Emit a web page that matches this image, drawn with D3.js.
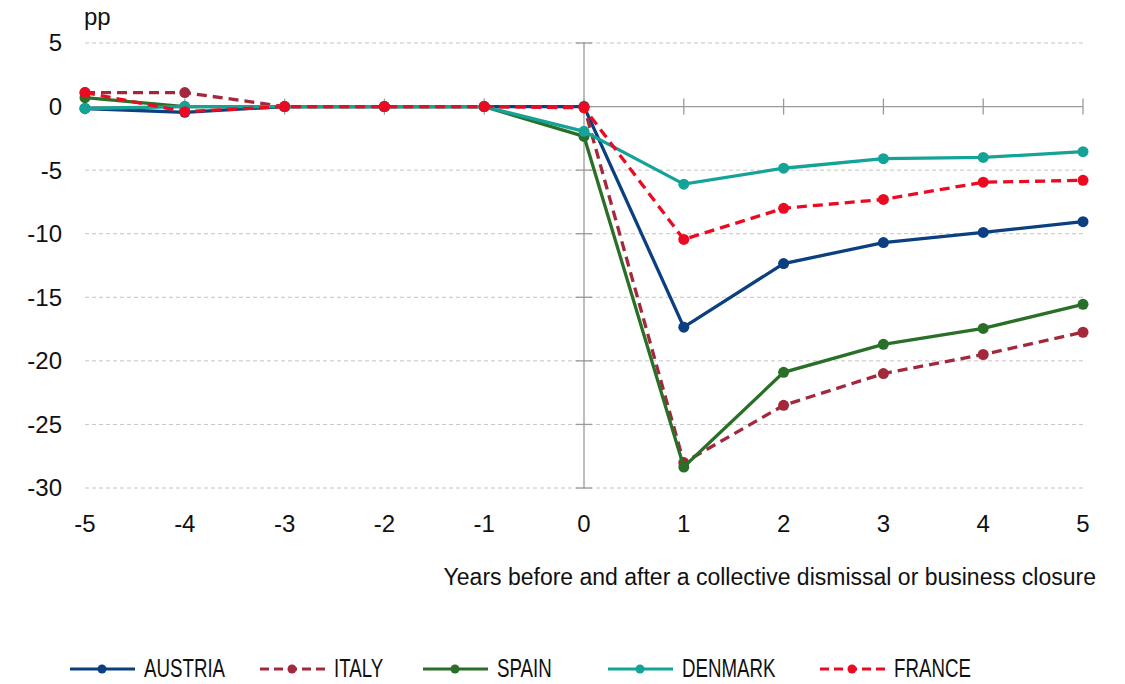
<!DOCTYPE html>
<html>
<head>
<meta charset="utf-8">
<script src="https://cdn.jsdelivr.net/npm/d3@7"></script>
<style>
  html, body { margin: 0; padding: 0; background: #fff; }
  svg { display: block; }
  .tick-label { font-family: "Liberation Sans", Arial, sans-serif; font-size: 24px; fill: #111; }
  .legend-label { font-family: "Liberation Sans", Arial, sans-serif; font-size: 26px; fill: #111; }
</style>
</head>
<body>
<svg id="chart" width="1125" height="684"></svg>
<script>
// Years relative to the dismissal / closure event
const years = [-5, -4, -3, -2, -1, 0, 1, 2, 3, 4, 5];

// Employment change in percentage points, by country
const austria = [-0.15, -0.45, 0, 0, 0, 0, -17.35, -12.35, -10.7, -9.9, -9.05];
const italy   = [1.1, 1.1, 0, 0, 0, 0, -28.0, -23.5, -21.0, -19.5, -17.75];
const spain   = [0.7, 0, 0, 0, 0, -2.35, -28.35, -20.9, -18.7, -17.45, -15.55];
const denmark = [-0.15, 0, 0, 0, 0, -1.95, -6.1, -4.85, -4.1, -4.0, -3.55];
const france  = [1.1, -0.4, 0, 0, 0, -0.1, -10.45, -8.0, -7.3, -5.95, -5.8];

const yTicks = [5, 0, -5, -10, -15, -20, -25, -30];
const xTicks = years;

const seriesNames = ["AUSTRIA", "ITALY", "SPAIN", "DENMARK", "FRANCE"];
const seriesValues = [austria, italy, spain, denmark, france];
const seriesColors = ["#0b3f80", "#a3283b", "#2a6f28", "#15a398", "#ec0a22"];
const seriesDashed = [false, true, false, false, true];

const svg = d3.select("#chart");

const x = d3.scaleLinear().domain([-5, 5]).range([85, 1083]);
const y = d3.scaleLinear().domain([-30, 5]).range([488, 43]);

// Dashed horizontal gridlines (zero line is drawn as the solid axis)
svg.append("g")
  .selectAll("line")
  .data(yTicks.filter(d => d !== 0))
  .join("line")
  .attr("x1", x(-5)).attr("x2", x(5))
  .attr("y1", d => y(d)).attr("y2", d => y(d))
  .attr("stroke", "#c4c4c4")
  .attr("stroke-width", 1)
  .attr("stroke-dasharray", "4,3");

// Horizontal axis through zero, ticks crossing the line
const xAxis = svg.append("g");
xAxis.append("line")
  .attr("x1", x(-5)).attr("x2", x(5))
  .attr("y1", y(0)).attr("y2", y(0))
  .attr("stroke", "#9a9a9a").attr("stroke-width", 1.3);
xAxis.selectAll("line.t")
  .data(xTicks)
  .join("line")
  .attr("class", "t")
  .attr("x1", d => x(d)).attr("x2", d => x(d))
  .attr("y1", y(0) - 8).attr("y2", y(0) + 8)
  .attr("stroke", "#9a9a9a").attr("stroke-width", 1.3);

// Vertical axis at year zero, ticks crossing the line
const yAxis = svg.append("g");
yAxis.append("line")
  .attr("x1", x(0)).attr("x2", x(0))
  .attr("y1", y(5)).attr("y2", y(-30))
  .attr("stroke", "#9a9a9a").attr("stroke-width", 1.3);
yAxis.selectAll("line.t")
  .data(yTicks)
  .join("line")
  .attr("class", "t")
  .attr("x1", x(0) - 8).attr("x2", x(0) + 8)
  .attr("y1", d => y(d)).attr("y2", d => y(d))
  .attr("stroke", "#9a9a9a").attr("stroke-width", 1.3);

// Y tick labels on the left
svg.append("g")
  .selectAll("text")
  .data(yTicks)
  .join("text")
  .attr("class", "tick-label")
  .attr("x", 62)
  .attr("y", d => y(d))
  .attr("dy", "0.35em")
  .attr("text-anchor", "end")
  .text(d => d);

// X tick labels below the plot
svg.append("g")
  .selectAll("text")
  .data(xTicks)
  .join("text")
  .attr("class", "tick-label")
  .attr("x", d => x(d))
  .attr("y", 532)
  .attr("text-anchor", "middle")
  .text(d => d);

// Unit label
svg.append("text")
  .attr("x", 84).attr("y", 25)
  .attr("font-family", "Liberation Sans, Arial, sans-serif")
  .attr("font-size", 24)
  .attr("fill", "#111")
  .text("pp");

// X axis title
svg.append("text")
  .attr("x", 1096).attr("y", 585)
  .attr("text-anchor", "end")
  .attr("font-family", "Liberation Sans, Arial, sans-serif")
  .attr("font-size", 23)
  .attr("fill", "#111")
  .text("Years before and after a collective dismissal or business closure");

// Series lines and markers
const line = d3.line().x((d, i) => x(years[i])).y(d => y(d));

seriesValues.forEach((vals, k) => {
  const g = svg.append("g");
  g.append("path")
    .datum(vals)
    .attr("d", line)
    .attr("fill", "none")
    .attr("stroke", seriesColors[k])
    .attr("stroke-width", 3.3)
    .attr("stroke-dasharray", seriesDashed[k] ? "10,6" : null);
  g.selectAll("circle")
    .data(vals)
    .join("circle")
    .attr("cx", (d, i) => x(years[i]))
    .attr("cy", d => y(d))
    .attr("r", 5.5)
    .attr("fill", seriesColors[k]);
});

// Legend (condensed labels)
const legendX = [70, 260, 423, 608, 820];
const legendY = 669;
const legend = svg.append("g");
seriesNames.forEach((name, k) => {
  const gx = legendX[k];
  legend.append("line")
    .attr("x1", gx).attr("x2", gx + 65)
    .attr("y1", legendY).attr("y2", legendY)
    .attr("stroke", seriesColors[k])
    .attr("stroke-width", 3)
    .attr("stroke-dasharray", seriesDashed[k] ? "9,5" : null);
  legend.append("circle")
    .attr("cx", gx + 32).attr("cy", legendY)
    .attr("r", 4.5)
    .attr("fill", seriesColors[k]);
  legend.append("text")
    .attr("class", "legend-label")
    .attr("transform", `translate(${gx + 74},${legendY + 8}) scale(0.72,1)`)
    .text(name);
});
</script>
</body>
</html>
